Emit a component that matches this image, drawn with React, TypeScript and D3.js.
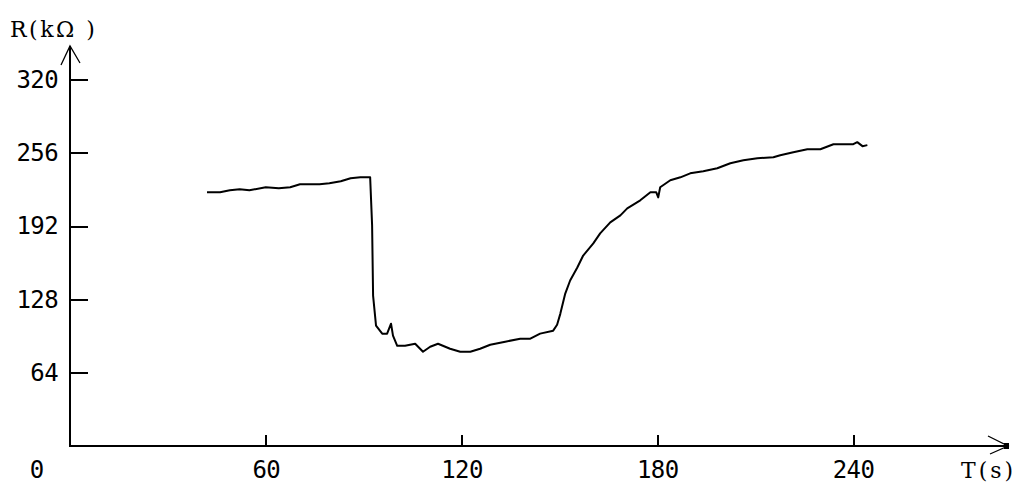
import * as d3 from "d3";
import React, { useRef, useEffect } from "react";

// time in seconds
const times = [
  42, 46, 49, 52, 55, 60, 64, 67.5, 70.5, 76.5, 79.5, 83, 86, 89, 92,
  92.6, 92.9, 93.8, 95.7, 97.2, 98.4, 99, 100.3, 102.7, 105.8, 108.2,
  110.4, 112.8, 116.5, 119.6, 122.7, 125.7, 128.8, 133.4, 138, 141.1,
  144.1, 148.1, 149.3, 150.3, 151.8, 153.3, 155.5, 157.3, 160.4, 162.5,
  165.6, 168.7, 170.8, 174.8, 177.9, 179.7, 180.3, 180.9, 184, 187.1,
  190.1, 194.1, 198.4, 202.4, 206.4, 210.7, 215.6, 217.7, 221.7, 226,
  230, 234, 240.1, 241.3, 242.9, 244.4,
];

// resistance in kOhm
const resistance = [
  221.5, 221.5, 223.3, 224.1, 223.3, 225.9, 225, 225.9, 228.5, 228.5,
  229.4, 231.1, 233.8, 234.6, 234.6,
  192.6, 131.3, 105.1, 98.1, 98.1, 106.8, 96.3, 87.5, 87.5, 89.3, 82.3,
  86.7, 89.3, 84.9, 82.3, 82.3, 84.9, 88.4, 91.1, 93.7, 93.7,
  98.1, 100.7, 105.9, 115.6, 133.1, 144.5, 155.8, 166.3, 176.9, 185.6,
  195.2, 201.4, 207.5, 214.5, 221.5, 221.5, 217.1, 225.9, 232, 234.6,
  238.1, 239.9, 242.5, 246.9, 249.5, 251.3, 252.1, 253.9, 256.5, 259.1,
  259.1, 263.5, 263.5, 265.3, 261.8, 262.7,
];

const xTicks = [60, 120, 180, 240];
const yTicks = [64, 128, 192, 256, 320];

const labelFont = "'DejaVu Sans Mono', monospace";

function ResistanceChart() {
  const ref = useRef<SVGSVGElement>(null);

  useEffect(() => {
    const svg = d3.select(ref.current);
    svg.selectAll("*").remove();

    const x = d3.scaleLinear().domain([0, 240]).range([70, 853]);
    const y = d3.scaleLinear().domain([0, 320]).range([446, 79.5]);

    // y axis ticks + labels
    const yAxis = svg.append("g")
      .attr("transform", "translate(70,0)")
      .call(d3.axisLeft(y).tickValues(yTicks).tickSizeInner(-18).tickSizeOuter(0).tickPadding(12));
    yAxis.select(".domain").remove();
    yAxis.selectAll("line").attr("stroke", "#000").attr("stroke-width", 2).attr("shape-rendering", "crispEdges");
    yAxis.selectAll("text")
      .attr("font-family", labelFont)
      .attr("font-size", 24)
      .attr("letter-spacing", -0.6)
      .attr("fill", "#000");

    // x axis ticks + labels
    const xAxis = svg.append("g")
      .attr("transform", "translate(0,446)")
      .call(d3.axisBottom(x).tickValues(xTicks).tickSizeInner(-11).tickSizeOuter(0).tickPadding(0));
    xAxis.select(".domain").remove();
    xAxis.selectAll("line").attr("stroke", "#000").attr("stroke-width", 2).attr("shape-rendering", "crispEdges");
    xAxis.selectAll("text")
      .attr("y", 32)
      .attr("dy", null)
      .attr("font-family", labelFont)
      .attr("font-size", 24)
      .attr("letter-spacing", -0.6)
      .attr("fill", "#000");

    // axis lines with arrows
    const axes = svg.append("g").attr("stroke", "#000").attr("fill", "none");
    axes.append("line")
      .attr("x1", 70).attr("y1", 447).attr("x2", 70).attr("y2", 46)
      .attr("stroke-width", 2).attr("shape-rendering", "crispEdges");
    axes.append("line")
      .attr("x1", 69).attr("y1", 446).attr("x2", 1008).attr("y2", 446)
      .attr("stroke-width", 2).attr("shape-rendering", "crispEdges");
    axes.append("path")
      .attr("d", "M61,65L70,46L80,63")
      .attr("stroke-width", 1.3);
    axes.append("path")
      .attr("d", "M988,436L1008,446L990,454")
      .attr("stroke-width", 1.3);
    svg.append("rect")
      .attr("x", 1004).attr("y", 443).attr("width", 5).attr("height", 6)
      .attr("fill", "#000");

    // data line
    const pts = times.map((t, i) => [t, resistance[i]] as [number, number]);
    const line = d3.line<[number, number]>()
      .x(d => x(d[0]))
      .y(d => y(d[1]));
    svg.append("path")
      .datum(pts)
      .attr("d", line)
      .attr("fill", "none")
      .attr("stroke", "#000")
      .attr("stroke-width", 2)
      .attr("stroke-linejoin", "round");

    // labels
    svg.append("text")
      .attr("x", 37).attr("y", 478)
      .attr("text-anchor", "middle")
      .attr("font-family", labelFont)
      .attr("font-size", 24)
      .text("0");

    svg.append("text")
      .attr("x", 10).attr("y", 37)
      .attr("font-family", "'DejaVu Serif', serif")
      .attr("font-size", 22)
      .attr("letter-spacing", 2.5)
      .text("R(kΩ )");

    svg.append("text")
      .attr("x", 961).attr("y", 478)
      .attr("font-family", "'DejaVu Serif', serif")
      .attr("font-size", 22)
      .attr("letter-spacing", 3)
      .text("T(s)");
  }, []);

  return (
    <svg ref={ref} width={1024} height={496}
      style={{ position: "absolute", left: 0, top: 0, background: "#fff" }} />
  );
}

export default function App() {
  return <ResistanceChart />;
}
